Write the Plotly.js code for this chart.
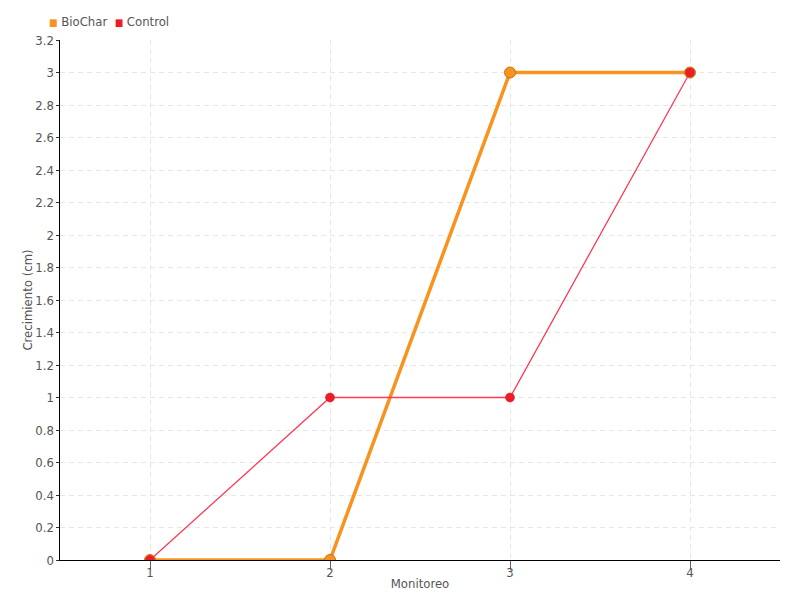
<!DOCTYPE html>
<html>
<head>
<meta charset="utf-8">
<script src="https://cdn.plot.ly/plotly-3.0.1.min.js"></script>
<style>html,body{margin:0;padding:0;background:#fff;}#chart{width:800px;height:600px;}</style>
</head>
<body>
<div id="chart"></div>
<script>
const monitoreo = [1, 2, 3, 4];
const biochar = [0, 0, 3, 3];
const control = [0, 1, 1, 3];
const seriesNames = ['BioChar', 'Control'];
const yTicks = [0, 0.2, 0.4, 0.6, 0.8, 1, 1.2, 1.4, 1.6, 1.8, 2, 2.2, 2.4, 2.6, 2.8, 3, 3.2];

const FONT = '"DejaVu Sans Condensed", "Liberation Sans Narrow", "DejaVu Sans", sans-serif';
const ORANGE = '#f7931e';
const RED = '#ee1c25';

const traces = [
  {
    x: monitoreo, y: biochar, name: seriesNames[0], mode: 'lines+markers', showlegend: false,
    line: {color: ORANGE, width: 3.5},
    marker: {color: ORANGE, size: 11, line: {color: '#c8731a', width: 1}}
  },
  {
    x: monitoreo, y: control, name: seriesNames[1], mode: 'lines+markers', showlegend: false,
    line: {color: '#ff3a55', width: 1.3},
    marker: {color: RED, size: 9, line: {color: '#c81a20', width: 0.5}}
  }
];

const legendText =
  '<span style="color:' + ORANGE + ';font-size:10px">■</span> ' + seriesNames[0] +
  '  <span style="color:' + RED + ';font-size:10px">■</span> ' + seriesNames[1];

const layout = {
  width: 800, height: 600,
  margin: {l: 60, r: 20, t: 40, b: 40},
  paper_bgcolor: '#fff', plot_bgcolor: '#fff',
  font: {family: FONT, size: 13, color: '#555'},
  showlegend: false,
  annotations: [{
    xref: 'paper', yref: 'paper', x: -0.018, y: 1.035, xanchor: 'left', yanchor: 'middle',
    text: legendText, showarrow: false, font: {family: FONT, size: 13, color: '#555'}
  }],
  xaxis: {
    range: [0.5, 4.5], tickvals: monitoreo, ticktext: monitoreo.map(String),
    showgrid: true, gridcolor: '#e6e6e6', griddash: '5px,4px', gridwidth: 1,
    showline: true, linecolor: '#000', linewidth: 1, zeroline: false,
    ticks: 'outside', ticklen: 9, tickcolor: '#666', ticklabelstandoff: -9,
    tickfont: {family: FONT, size: 13, color: '#555'},
    title: {text: 'Monitoreo', standoff: 0, font: {family: FONT, size: 13, color: '#555'}}
  },
  yaxis: {
    range: [0, 3.2], tickvals: yTicks, ticktext: yTicks.map(v => String(Math.round(v * 10) / 10)),
    showgrid: true, gridcolor: '#e6e6e6', griddash: '5px,4px', gridwidth: 1,
    showline: true, linecolor: '#000', linewidth: 1.5, zeroline: false,
    ticks: 'outside', ticklen: 3, tickcolor: '#333', ticklabelstandoff: -1,
    tickfont: {family: FONT, size: 13, color: '#555'},
    title: {text: 'Crecimiento (cm)', standoff: 0, font: {family: FONT, size: 13, color: '#555'}}
  }
};

Plotly.newPlot('chart', traces, layout, {displayModeBar: false, staticPlot: true});
</script>
</body>
</html>
